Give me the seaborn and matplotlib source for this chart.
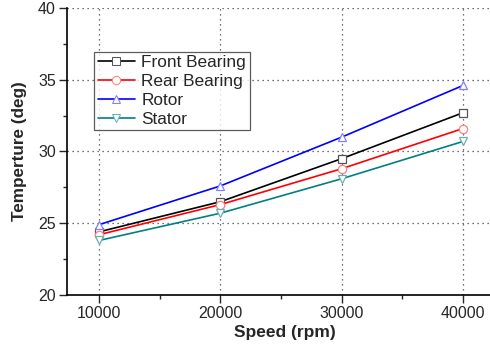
import numpy as np
import pandas as pd
import seaborn as sns
import matplotlib.pyplot as plt
from matplotlib.ticker import MultipleLocator

speed = [10000, 20000, 30000, 40000]
front_bearing = [24.4, 26.5, 29.5, 32.7]
rear_bearing = [24.2, 26.3, 28.8, 31.6]
rotor = [24.9, 27.6, 31.0, 34.6]
stator = [23.8, 25.7, 28.1, 30.7]

series = ["Front Bearing", "Rear Bearing", "Rotor", "Stator"]
colors = ["black", "red", "blue", "#008080"]
edge_colors = ["#555555", "#ff8080", "#8080ff", "#66b2b2"]
markers = ["s", "o", "^", "v"]

df = pd.DataFrame({
    "speed": speed * 4,
    "temp": front_bearing + rear_bearing + rotor + stator,
    "part": np.repeat(series, len(speed)),
})

sns.set_style("ticks")
plt.rcParams["font.family"] = ["Liberation Sans", "DejaVu Sans"]

fig = plt.figure(figsize=(4.9, 3.46), dpi=100)
# axes box in pixels: left 67, right 490, top 8, bottom 295
ax = fig.add_axes([67 / 490, 1 - 295 / 346, 423 / 490, 287 / 346])

sns.lineplot(data=df, x="speed", y="temp", hue="part", style="part",
             palette=dict(zip(series, colors)),
             markers=dict(zip(series, markers)), dashes=False,
             linewidth=1.2, markersize=6, ax=ax)

for line, ec in zip(ax.get_lines(), edge_colors):
    line.set_markerfacecolor("white")
    line.set_markeredgecolor(ec)
    line.set_markeredgewidth(0.9)

ax.set_xlim(7360, 42230)
ax.set_ylim(20, 40)
ax.set_xticks(speed)
ax.xaxis.set_minor_locator(MultipleLocator(5000))
ax.yaxis.set_major_locator(MultipleLocator(5))
ax.yaxis.set_minor_locator(MultipleLocator(2.5))
ax.tick_params(axis="both", which="major", direction="out", length=6, width=1,
               labelsize=11.5, pad=2)
ax.tick_params(axis="both", which="minor", direction="out", length=3, width=1)
ax.grid(True, which="major", linestyle=(0, (1, 3)), color="#444444", linewidth=0.9)

sns.despine(ax=ax)
for s in ("left", "bottom"):
    ax.spines[s].set_color("black")
    ax.spines[s].set_linewidth(1.2)

ax.set_xlabel("Speed (rpm)", fontsize=12.5, fontweight="bold")
ax.set_ylabel("Temperture (deg)", fontsize=12.3, fontweight="bold")
ax.xaxis.set_label_coords(0.515, -0.105)
ax.yaxis.set_label_coords(-0.095, 0.5)

handles, labels = ax.get_legend_handles_labels()
for h, ec in zip(handles, edge_colors):
    h.set_markerfacecolor("white")
    h.set_markeredgecolor(ec)
leg = ax.legend(handles, labels, loc="upper left", bbox_to_anchor=(0.064, 0.847),
                frameon=True, fancybox=False, fontsize=12.4, handlelength=2.2,
                borderpad=0.2, labelspacing=0.22, handletextpad=0.35,
                borderaxespad=0)
leg.get_frame().set_edgecolor("#333333")
leg.get_frame().set_linewidth(0.9)

fig.savefig("out.png", dpi=100)
